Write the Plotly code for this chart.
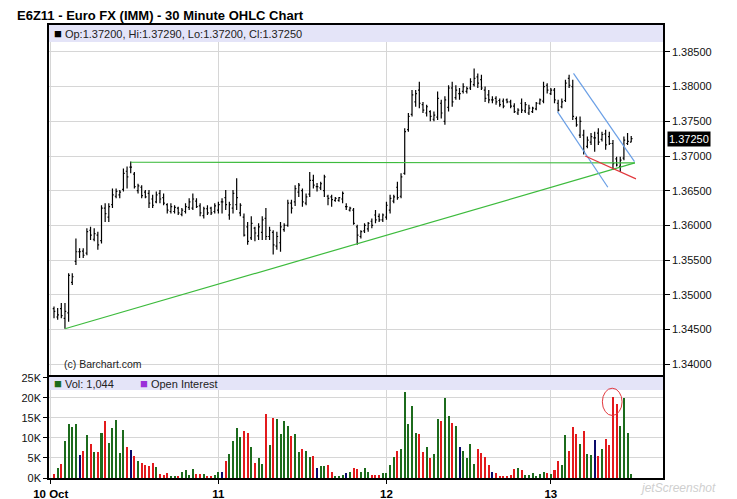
import plotly.graph_objects as go
from plotly.subplots import make_subplots

# E6Z11 30 minute bars, 10-13 Oct, 46 bars per session
opens = [
    1.3480, 1.3468, 1.3480, 1.3466, 1.3474, 1.3518, 1.3548, 1.3562, 1.3563, 1.3560,
    1.3593, 1.3580, 1.3586, 1.3578, 1.3625, 1.3612, 1.3630, 1.3642, 1.3644, 1.3652,
    1.3678, 1.3684, 1.3674, 1.3650, 1.3655, 1.3648, 1.3646, 1.3638, 1.3634, 1.3646,
    1.3640, 1.3630, 1.3620, 1.3620, 1.3625, 1.3616, 1.3620, 1.3626, 1.3625, 1.3635,
    1.3628, 1.3614, 1.3624, 1.3625, 1.3620, 1.3622, 1.3634, 1.3640, 1.3615, 1.3625,
    1.3630, 1.3618, 1.3612, 1.3598, 1.3582, 1.3596, 1.3585, 1.3590, 1.3610, 1.3584,
    1.3590, 1.3570, 1.3575, 1.3594, 1.3600, 1.3632, 1.3634, 1.3648, 1.3650, 1.3632,
    1.3645, 1.3665, 1.3656, 1.3654, 1.3650, 1.3642, 1.3641, 1.3636, 1.3636, 1.3638,
    1.3627, 1.3622, 1.3622, 1.3598, 1.3584, 1.3592, 1.3595, 1.3606, 1.3615, 1.3613,
    1.3608, 1.3612, 1.3622, 1.3635, 1.3655, 1.3642, 1.3675, 1.3738, 1.3760, 1.3778,
    1.3795, 1.3774, 1.3762, 1.3764, 1.3753, 1.3756, 1.3776, 1.3750, 1.3770, 1.3798,
    1.3784, 1.3790, 1.3793, 1.3793, 1.3798, 1.3803, 1.3814, 1.3810, 1.3795, 1.3788,
    1.3781, 1.3783, 1.3780, 1.3779, 1.3781, 1.3778, 1.3772, 1.3762, 1.3776, 1.3765,
    1.3762, 1.3764, 1.3768, 1.3776, 1.3779, 1.3802, 1.3790, 1.3795, 1.3776, 1.3771,
    1.3780, 1.3812, 1.3800, 1.3754, 1.3730, 1.3730, 1.3714, 1.3720, 1.3726, 1.3733,
    1.3724, 1.3732, 1.3728, 1.3718, 1.3696, 1.3685, 1.3697, 1.3718, 1.3720,
]
highs = [
    1.3483, 1.3481, 1.3488, 1.3488, 1.3531, 1.3531, 1.3581, 1.3567, 1.3567, 1.3596,
    1.3598, 1.3596, 1.3591, 1.3629, 1.3632, 1.3632, 1.3653, 1.3653, 1.3651, 1.3682,
    1.3685, 1.3692, 1.3677, 1.3660, 1.3658, 1.3651, 1.3651, 1.3644, 1.3649, 1.3651,
    1.3646, 1.3632, 1.3632, 1.3629, 1.3627, 1.3625, 1.3632, 1.3639, 1.3646, 1.3639,
    1.3632, 1.3627, 1.3629, 1.3627, 1.3632, 1.3634, 1.3639, 1.3651, 1.3634, 1.3651,
    1.3668, 1.3632, 1.3617, 1.3605, 1.3613, 1.3598, 1.3603, 1.3613, 1.3625, 1.3598,
    1.3593, 1.3591, 1.3605, 1.3603, 1.3637, 1.3637, 1.3658, 1.3661, 1.3653, 1.3646,
    1.3677, 1.3673, 1.3661, 1.3663, 1.3673, 1.3644, 1.3644, 1.3641, 1.3641, 1.3649,
    1.3632, 1.3627, 1.3625, 1.3601, 1.3593, 1.3603, 1.3605, 1.3610, 1.3622, 1.3617,
    1.3617, 1.3634, 1.3644, 1.3644, 1.3663, 1.3675, 1.3740, 1.3762, 1.3795, 1.3795,
    1.3807, 1.3778, 1.3774, 1.3766, 1.3764, 1.3793, 1.3781, 1.3786, 1.3802, 1.3807,
    1.3802, 1.3798, 1.3805, 1.3800, 1.3812, 1.3826, 1.3819, 1.3817, 1.3800, 1.3795,
    1.3786, 1.3786, 1.3783, 1.3783, 1.3783, 1.3781, 1.3776, 1.3769, 1.3783, 1.3778,
    1.3774, 1.3771, 1.3778, 1.3783, 1.3807, 1.3805, 1.3798, 1.3798, 1.3781, 1.3783,
    1.3810, 1.3817, 1.3810, 1.3757, 1.3757, 1.3738, 1.3728, 1.3733, 1.3735, 1.3740,
    1.3735, 1.3738, 1.3735, 1.3723, 1.3699, 1.3699, 1.3728, 1.3733, 1.3729,
]
lows = [
    1.3466, 1.3464, 1.3466, 1.3451, 1.3461, 1.3514, 1.3543, 1.3553, 1.3553, 1.3557,
    1.3579, 1.3577, 1.3565, 1.3574, 1.3605, 1.3605, 1.3625, 1.3639, 1.3639, 1.3649,
    1.3653, 1.3675, 1.3653, 1.3646, 1.3639, 1.3639, 1.3625, 1.3625, 1.3632, 1.3632,
    1.3629, 1.3617, 1.3617, 1.3617, 1.3615, 1.3613, 1.3617, 1.3622, 1.3622, 1.3625,
    1.3613, 1.3610, 1.3615, 1.3615, 1.3617, 1.3617, 1.3617, 1.3622, 1.3608, 1.3617,
    1.3622, 1.3613, 1.3584, 1.3572, 1.3579, 1.3577, 1.3579, 1.3579, 1.3579, 1.3579,
    1.3558, 1.3565, 1.3562, 1.3591, 1.3598, 1.3617, 1.3628, 1.3641, 1.3627, 1.3629,
    1.3641, 1.3653, 1.3649, 1.3651, 1.3641, 1.3629, 1.3627, 1.3634, 1.3634, 1.3632,
    1.3622, 1.3620, 1.3601, 1.3572, 1.3581, 1.3589, 1.3591, 1.3596, 1.3603, 1.3605,
    1.3605, 1.3608, 1.3617, 1.3632, 1.3637, 1.3639, 1.3673, 1.3735, 1.3757, 1.3771,
    1.3769, 1.3762, 1.3757, 1.3750, 1.3750, 1.3752, 1.3754, 1.3745, 1.3764, 1.3771,
    1.3781, 1.3781, 1.3790, 1.3790, 1.3795, 1.3800, 1.3798, 1.3795, 1.3778, 1.3776,
    1.3776, 1.3774, 1.3771, 1.3769, 1.3776, 1.3769, 1.3762, 1.3759, 1.3762, 1.3762,
    1.3759, 1.3762, 1.3766, 1.3774, 1.3776, 1.3790, 1.3788, 1.3776, 1.3764, 1.3769,
    1.3778, 1.3798, 1.3752, 1.3742, 1.3726, 1.3702, 1.3711, 1.3716, 1.3706, 1.3716,
    1.3721, 1.3709, 1.3716, 1.3680, 1.3685, 1.3677, 1.3694, 1.3716, 1.3720,
]
closes = [
    1.3476, 1.3471, 1.3470, 1.3476, 1.3528, 1.3526, 1.3562, 1.3562, 1.3557, 1.3591,
    1.3586, 1.3588, 1.3572, 1.3625, 1.3617, 1.3627, 1.3644, 1.3649, 1.3648, 1.3675,
    1.3670, 1.3684, 1.3656, 1.3657, 1.3643, 1.3641, 1.3632, 1.3629, 1.3644, 1.3638,
    1.3632, 1.3622, 1.3627, 1.3626, 1.3618, 1.3622, 1.3627, 1.3634, 1.3638, 1.3627,
    1.3618, 1.3624, 1.3618, 1.3618, 1.3628, 1.3630, 1.3634, 1.3630, 1.3630, 1.3646,
    1.3640, 1.3629, 1.3586, 1.3577, 1.3603, 1.3589, 1.3598, 1.3608, 1.3584, 1.3593,
    1.3572, 1.3584, 1.3598, 1.3600, 1.3632, 1.3625, 1.3653, 1.3658, 1.3634, 1.3641,
    1.3665, 1.3658, 1.3656, 1.3660, 1.3670, 1.3639, 1.3637, 1.3639, 1.3640, 1.3646,
    1.3627, 1.3625, 1.3603, 1.3586, 1.3591, 1.3600, 1.3603, 1.3600, 1.3608, 1.3608,
    1.3615, 1.3629, 1.3639, 1.3641, 1.3640, 1.3670, 1.3735, 1.3757, 1.3788, 1.3790,
    1.3776, 1.3766, 1.3771, 1.3757, 1.3759, 1.3783, 1.3762, 1.3781, 1.3798, 1.3778,
    1.3795, 1.3790, 1.3800, 1.3797, 1.3807, 1.3812, 1.3805, 1.3798, 1.3783, 1.3781,
    1.3781, 1.3778, 1.3774, 1.3772, 1.3778, 1.3772, 1.3764, 1.3766, 1.3766, 1.3774,
    1.3769, 1.3769, 1.3776, 1.3781, 1.3800, 1.3795, 1.3795, 1.3781, 1.3766, 1.3778,
    1.3805, 1.3802, 1.3757, 1.3745, 1.3750, 1.3706, 1.3723, 1.3728, 1.3726, 1.3720,
    1.3731, 1.3716, 1.3718, 1.3689, 1.3687, 1.3694, 1.3723, 1.3721, 1.3725,
]
volumes = [
    1100, 2500, 3500, 9300, 13500, 12800, 13500, 5800, 6800, 10800,
    8500, 6500, 6500, 11300, 14200, 8800, 12500, 14500, 6300, 12000,
    7800, 7000, 5500, 4300, 3800, 3300, 3100, 3800, 2800, 1100,
    700, 1300, 600, 600, 600, 1600, 2100, 800, 2300, 1100,
    1100, 1100, 600, 600, 800, 1600, 1600, 4300, 6000, 9300,
    12500, 10300, 11800, 11300, 7800, 3800, 5000, 3600, 16000, 8300,
    15000, 14700, 11000, 14200, 13000, 10500, 11000, 6500, 7300, 6800,
    5300, 5500, 2600, 3100, 3100, 3300, 1600, 600, 300, 800,
    1300, 1600, 2600, 2300, 1600, 2600, 1600, 800, 800, 800,
    1300, 1300, 3300, 5300, 6800, 7300, 21400, 13500, 18000, 11300,
    11000, 6500, 7800, 5000, 6000, 14700, 14200, 20000, 15500, 13700,
    13000, 7800, 6800, 5000, 8500, 3600, 7300, 6300, 5300, 3300,
    1600, 1300, 600, 600, 600, 800, 2300, 2600, 2100, 800,
    800, 1300, 600, 1100, 1600, 1300, 1100, 2100, 4300, 3300,
    10800, 6800, 12800, 11000, 8500, 11800, 6000, 5800, 9500, 5500,
    7300, 9800, 8300, 20200, 18500, 13000, 20000, 11300, 1044,
]

day_ticks = [-0.9, 45, 91, 136]
day_labels = ["10 Oct", "11", "12", "13"]
price_ticks = [1.340, 1.345, 1.350, 1.355, 1.360, 1.365, 1.370, 1.375, 1.380, 1.385]
volume_ticks = [0, 5000, 10000, 15000, 20000, 25000]
volume_labels = ["0K", "5K", "10K", "15K", "20K", "25K"]

# hand drawn studies: (bar, price) end points
support_line = ([3, 159], [1.3451, 1.3690])
flat_line = ([21, 159], [1.3691, 1.3690])
channel_top = ([142.2, 158.9], [1.3819, 1.3692])
channel_bottom = ([137.8, 151.6], [1.3764, 1.3655])
red_line = ([145.4, 159.3], [1.3700, 1.3667])
vol_circle = ([150.1, 155.5], [15600, 22400])

FONT = "Liberation Sans, Arial, sans-serif"
GRID = "#d6d6d6"
UP, DOWN, FLAT = "#1c6b1c", "#e31a1c", "#0a0a6a"

bars = list(range(len(closes)))
vol_colors = [UP if c > o else DOWN if c < o else FLAT for o, c in zip(opens, closes)]

fig = make_subplots(rows=2, cols=1, shared_xaxes=True, vertical_spacing=0,
                    row_heights=[352, 101])

fig.add_trace(go.Ohlc(x=bars, open=opens, high=highs, low=lows, close=closes,
                      increasing_line_color="black", decreasing_line_color="black",
                      line_width=1.2, tickwidth=0.35, hoverinfo="skip"), row=1, col=1)

for (xs, ys), col in [(support_line, "#3dbb3d"), (flat_line, "#3dbb3d"),
                      (channel_top, "#6a9fe6"), (channel_bottom, "#6a9fe6"),
                      (red_line, "#e2393e")]:
    fig.add_trace(go.Scatter(x=xs, y=ys, mode="lines", line=dict(color=col, width=1.2),
                             hoverinfo="skip"), row=1, col=1)

fig.add_trace(go.Bar(x=bars, y=volumes, marker_color=vol_colors, marker_line_width=0,
                     width=0.55, hoverinfo="skip"), row=2, col=1)

axis_common = dict(showline=True, mirror=True, linecolor="black", linewidth=1.5,
                   showgrid=True, gridcolor=GRID, zeroline=False, automargin=False)

fig.update_xaxes(range=[-1.37, 166.7], tickvals=day_ticks, rangeslider_visible=False,
                 **axis_common)
fig.update_xaxes(showticklabels=False, ticks="", row=1, col=1)
fig.update_xaxes(ticktext=["<b>%s</b>" % t for t in day_labels], ticks="outside",
                 ticklen=4, tickcolor="black", tickfont=dict(size=11.5, color="black"),
                 row=2, col=1)

fig.update_yaxes(side="right", range=[1.33815, 1.38888], tickvals=price_ticks,
                 ticktext=["%.5f" % v for v in price_ticks], ticks="outside", ticklen=5,
                 tickcolor="black", tickfont=dict(size=11, color="#111"),
                 row=1, col=1, **axis_common)
fig.update_yaxes(side="left", range=[0, 25200], tickvals=volume_ticks,
                 ticktext=volume_labels, ticks="outside", ticklen=4, tickcolor="black",
                 tickfont=dict(size=11, color="#111"), row=2, col=1, **axis_common)

# lavender info bands at the top of each panel
fig.add_shape(type="rect", xref="x domain", yref="y domain", x0=0, x1=1,
              y0=1 - 17 / 352, y1=1, fillcolor="#e4e4f8", line_width=0, layer="above")
fig.add_shape(type="rect", xref="x2 domain", yref="y2 domain", x0=0, x1=1,
              y0=1 - 13 / 101, y1=1, fillcolor="#e4e4f8", line_width=0, layer="above")
fig.add_shape(type="circle", xref="x2", yref="y2", x0=vol_circle[0][0], x1=vol_circle[0][1],
              y0=vol_circle[1][0], y1=vol_circle[1][1], line=dict(color="#e2393e", width=1))

SQ = "<span style='color:%s;font-size:13px'>■</span> "
last = len(closes) - 1
ohlc_text = "Op:%.5f, Hi:%.5f, Lo:%.5f, Cl:%.5f" % (opens[last], highs[last], lows[last], closes[last])
fig.add_annotation(xref="x domain", yref="y domain", x=0.005, y=1 - 8.5 / 352,
                   xanchor="left", yanchor="middle", showarrow=False,
                   text=SQ % "black" + ohlc_text,
                   font=dict(size=11, color="#222"))
fig.add_annotation(xref="x2 domain", yref="y2 domain", x=0.005, y=1 - 6.5 / 101,
                   xanchor="left", yanchor="middle", showarrow=False,
                   text=SQ % UP + "Vol: %s" % format(volumes[last], ","),
                   font=dict(size=11, color="#222"))
fig.add_annotation(xref="x2 domain", yref="y2 domain", x=(138 - 49) / 614, y=1 - 6.5 / 101,
                   xanchor="left", yanchor="middle", showarrow=False,
                   text=SQ % "#9b30d9" + "Open Interest",
                   font=dict(size=11, color="#222"))
fig.add_annotation(xref="x domain", yref="y domain", x=(62 - 49) / 614, y=13 / 352,
                   xanchor="left", yanchor="middle", showarrow=False,
                   text="(c) Barchart.com", font=dict(size=10.5, color="#222"))
fig.add_annotation(xref="x domain", yref="y", x=1 + 4 / 614, y=closes[last],
                   xanchor="left", yanchor="middle", showarrow=False,
                   text="%.5f" % closes[last], bgcolor="black", borderpad=1,
                   font=dict(size=11, color="white"))
fig.add_annotation(xref="paper", yref="paper", x=1.09, y=-0.022, xanchor="right",
                   yanchor="middle", showarrow=False, text="<i>jetScreenshot</i>",
                   font=dict(size=12, color="#cfcfcf"))

fig.update_layout(
    template="none",
    width=737, height=499,
    margin=dict(l=49, r=74, t=25, b=21, autoexpand=False),
    paper_bgcolor="white", plot_bgcolor="white",
    showlegend=False, bargap=0,
    font=dict(family=FONT, size=11, color="#222"),
    title=dict(text="<b>E6Z11 - Euro FX (IMM) - 30 Minute OHLC Chart</b>",
               x=17 / 737, xanchor="left", y=1 - 15 / 499, yanchor="middle",
               font=dict(size=13, color="black")),
)

# page has the browser's default 8px body margin; drop it so the figure fills the window
fig.write_html("out.html", config={"displayModeBar": False},
               post_script="document.body.style.margin='0';document.body.style.overflow='hidden';")
